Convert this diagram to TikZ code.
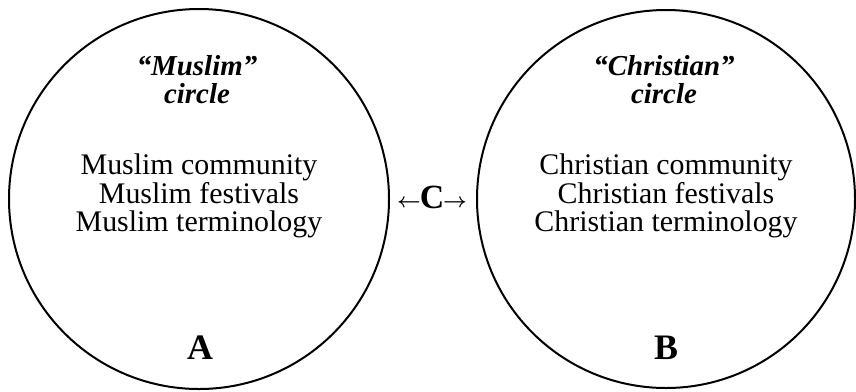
\documentclass[tikz,border=0pt]{standalone}
\usepackage{fontspec}
\setmainfont{Liberation Serif}
\usetikzlibrary{calc}
\tikzset{
	ring/.style={line width=2bp},
	heading/.style={align=center, font=\fontsize{29}{28}\selectfont\bfseries\itshape},
	items/.style={align=center, font=\fontsize{30}{28.5}\selectfont},
	letter/.style={anchor=base, font=\fontsize{36}{36}\selectfont\bfseries}
}
\newcommand{\sidearrow}[1]{\raisebox{0.02em}{\fontsize{21}{21}\selectfont\boldmath$#1$}}

\begin{document}
\begin{tikzpicture}[x=1bp, y=-1bp]
			%%%%% START %%%%%
			
			\useasboundingbox (0, 0) rectangle (856, 391);
			
			% the two circles
			\draw[ring] (199, 199) circle (190);
			\draw[ring] (666, 199) circle (189);
			
			% left circle
			\node[heading] (mhead) at (197, 80) {``Muslim''\\circle};
			\node[items] (mitems) at (199, 196) {Muslim community\\Muslim festivals\\Muslim terminology};
			\node[letter] (a) at (200, 359) {A};
			
			% right circle
			\node[heading] (chead) at (664, 80) {``Christian''\\circle};
			\node[items] (citems) at (666, 196) {Christian community\\Christian festivals\\Christian terminology};
			\node[letter] (b) at (666, 359) {B};
			
			% between
			\node[anchor=base, inner sep=0pt, font=\fontsize{34}{34}\selectfont\bfseries] (c) at (432, 208)
				{\sidearrow{\leftarrow}\kern-1bp C\kern-1bp\sidearrow{\rightarrow}};
			
			%%%%% END %%%%%
		\end{tikzpicture}
\end{document}
